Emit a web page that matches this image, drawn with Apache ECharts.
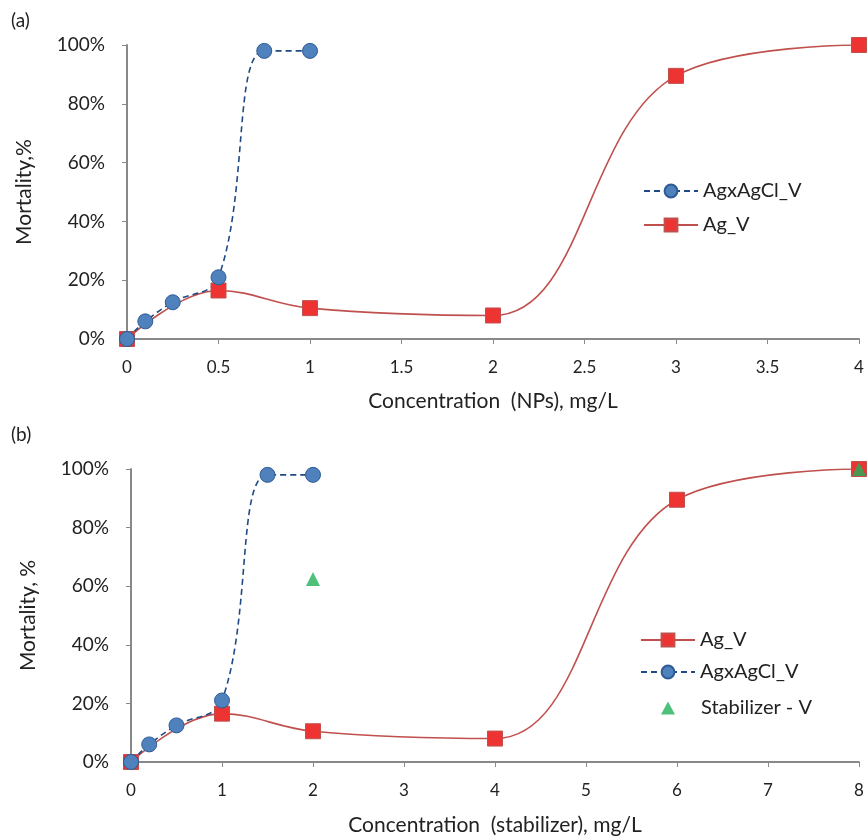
<!DOCTYPE html>
<html lang="en">
<head>
    <meta charset="UTF-8">
    <title>Mortality vs Concentration</title>
    <script src="https://cdn.jsdelivr.net/npm/echarts@6.0.0/dist/echarts.min.js"></script>
    <style>
        body { margin: 0; background: #fff; }
        #chart { width: 867px; height: 837px; }
    </style>
</head>
<body>
    <div id="chart"></div>
    <script>
        // panel (a): concentration of NPs, mg/L
        const npsAgxX = [0, 0.1, 0.25, 0.5, 0.75, 1];
        const npsAgxY = [0, 6, 12.5, 21, 98, 98];
        const npsAgX = [0, 0.5, 1, 2, 3, 4];
        const npsAgY = [0, 16.5, 10.5, 8, 89.5, 100];

        // panel (b): concentration of stabilizer, mg/L
        const stabAgX = [0, 1, 2, 4, 6, 8];
        const stabAgY = [0, 16.5, 10.5, 8, 89.5, 100];
        const stabAgxX = [0, 0.2, 0.5, 1, 1.5, 2];
        const stabAgxY = [0, 6, 12.5, 21, 98, 98];
        const stabOnlyX = [2, 8];
        const stabOnlyY = [62.5, 100];

        const pairs = (xs, ys) => xs.map((x, i) => [x, ys[i]]);

        const font = 'Lato, "Open Sans", sans-serif';
        const axisGrey = '#898989';
        const textColor = '#222';

        const agxStyle = {
            name: 'AgxAgCl_V',
            type: 'line',
            smooth: 0.4,
            symbol: 'circle',
            symbolSize: 15,
            lineStyle: { color: '#1f4a85', width: 1.6, type: [6, 4] },
            itemStyle: { color: '#4f81bd', borderColor: '#2e5b95', borderWidth: 1 }
        };
        const agStyle = {
            name: 'Ag_V',
            type: 'line',
            smooth: 0.4,
            symbol: 'rect',
            symbolSize: 15,
            lineStyle: { color: '#c0504d', width: 1.6 },
            itemStyle: { color: '#ee3333', borderColor: '#c0504d', borderWidth: 1 }
        };

        function xAxis(grid, min, max, interval, name, gap) {
            return {
                gridIndex: grid, type: 'value', min: min, max: max, interval: interval,
                name: name, nameLocation: 'middle', nameGap: gap,
                nameTextStyle: { fontFamily: font, fontSize: 21, color: textColor },
                axisLine: { lineStyle: { color: axisGrey, width: 2 } },
                axisTick: { show: true, length: 5, lineStyle: { color: axisGrey } },
                axisLabel: { fontFamily: font, fontSize: 17, color: textColor, margin: 20 },
                splitLine: { show: false }
            };
        }
        function yAxis(grid, name) {
            return {
                gridIndex: grid, type: 'value', min: 0, max: 100, interval: 20,
                name: name, nameLocation: 'middle', nameGap: 92,
                nameTextStyle: { fontFamily: font, fontSize: 21, color: textColor },
                axisLine: { show: true, lineStyle: { color: axisGrey, width: 2 } },
                axisTick: { show: true, length: 5, lineStyle: { color: axisGrey } },
                axisLabel: { fontFamily: font, fontSize: 19, color: textColor, margin: 22, formatter: '{value}%' },
                splitLine: { show: false }
            };
        }

        const legendText = { fontFamily: font, fontSize: 20, color: textColor };

        const chart = echarts.init(document.getElementById('chart'));
        chart.setOption({
            animation: false,
            title: [
                { text: '(a)', left: 6, top: 6, textStyle: { fontFamily: font, fontSize: 19, fontWeight: 'normal', color: textColor } },
                { text: '(b)', left: 6, top: 420, textStyle: { fontFamily: font, fontSize: 19, fontWeight: 'normal', color: textColor } }
            ],
            grid: [
                { left: 127, right: 8, top: 45, height: 294, outerBoundsMode: 'none' },
                { left: 131, right: 8, top: 469, height: 293, outerBoundsMode: 'none' }
            ],
            xAxis: [
                xAxis(0, 0, 4, 0.5, 'Concentration  (NPs), mg/L', 52),
                xAxis(1, 0, 8, 1, 'Concentration  (stabilizer), mg/L', 53)
            ],
            yAxis: [
                yAxis(0, 'Mortality,%'),
                yAxis(1, 'Mortality, %')
            ],
            legend: [
                {
                    orient: 'vertical', left: 638, top: 176, itemGap: 14,
                    itemWidth: 54, itemHeight: 16,
                    textStyle: legendText,
                    data: ['AgxAgCl_V', 'Ag_V']
                },
                {
                    orient: 'vertical', left: 635, top: 625, itemGap: 12,
                    itemWidth: 54, itemHeight: 16,
                    textStyle: legendText,
                    data: ['Ag_V', 'AgxAgCl_V']
                },
                {
                    orient: 'vertical', left: 656, top: 693,
                    itemWidth: 14, itemHeight: 13,
                    textStyle: Object.assign({ padding: [0, 0, 0, 21] }, legendText),
                    data: ['Stabilizer - V']
                }
            ],
            series: [
                Object.assign({}, agStyle, { xAxisIndex: 0, yAxisIndex: 0, data: pairs(npsAgX, npsAgY) }),
                Object.assign({}, agxStyle, { xAxisIndex: 0, yAxisIndex: 0, data: pairs(npsAgxX, npsAgxY), z: 3 }),
                Object.assign({}, agStyle, { xAxisIndex: 1, yAxisIndex: 1, data: pairs(stabAgX, stabAgY) }),
                Object.assign({}, agxStyle, { xAxisIndex: 1, yAxisIndex: 1, data: pairs(stabAgxX, stabAgxY), z: 3 }),
                {
                    name: 'Stabilizer - V', type: 'scatter', xAxisIndex: 1, yAxisIndex: 1,
                    symbol: 'triangle', symbolSize: 14, z: 4,
                    itemStyle: { color: '#22b05a' },
                    data: pairs(stabOnlyX, stabOnlyY)
                }
            ]
        });
    </script>
</body>
</html>
